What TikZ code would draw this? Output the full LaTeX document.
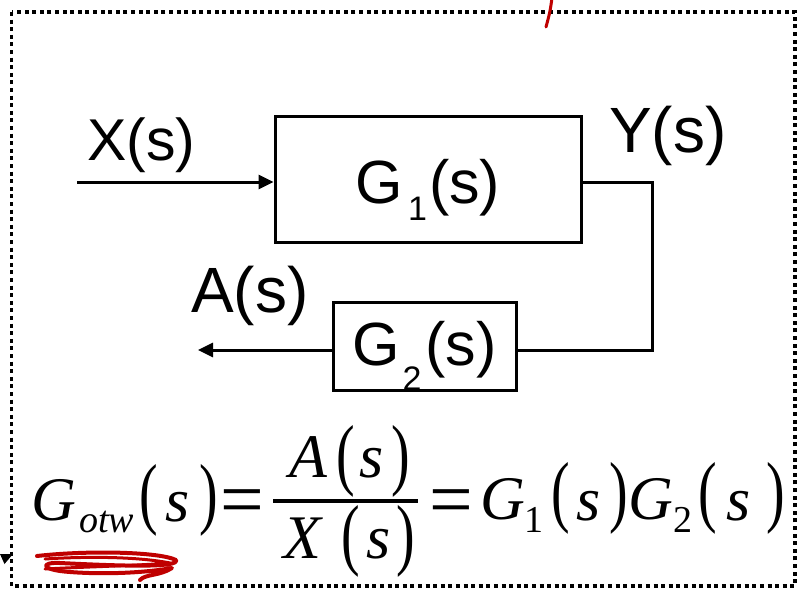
\documentclass[tikz,border=0pt]{standalone}
\usepackage{fontspec}
\usepackage{graphicx}
\setmainfont{Liberation Serif}
\newfontfamily\arialf{Liberation Sans}
\usetikzlibrary{arrows.meta}
\begin{document}
\begin{tikzpicture}[x=1pt,y=-1pt,
  blk/.style={draw, line width=3pt, inner sep=0pt, font=\arialf\fontsize{61}{64}\selectfont},
  conn/.style={line width=3pt},
  tipend/.style={-{Triangle[length=15pt,width=14pt]}},
  lbl/.style={font=\arialf\fontsize{59}{62}\selectfont, inner sep=0pt, anchor=base west},
  lblbig/.style={font=\arialf\fontsize{64}{66}\selectfont, inner sep=0pt, anchor=base west},
  eq/.style={font=\fontsize{62}{66}\selectfont\itshape, inner sep=0pt, anchor=base west},
  eqsub/.style={font=\fontsize{38}{40}\selectfont\itshape, inner sep=0pt, anchor=base west},
  eqsubn/.style={font=\fontsize{38}{40}\selectfont, inner sep=0pt, anchor=base west},
  eqn/.style={font=\fontsize{62}{66}\selectfont, inner sep=0pt, anchor=base west},
  paren/.style={font=\fontsize{62}{66}\selectfont, inner sep=0pt, anchor=west},
  ink/.style={draw=red!75!black, line width=4pt, line cap=round, line join=round},
  frame/.style={line width=3.5pt, dash pattern=on 4pt off 3.6pt}
]
\useasboundingbox (0,0) rectangle (798,589);
% dotted frame
\draw[frame] (11.5,12) rectangle (795,586);
\fill (0,554) -- (13,554) -- (4.5,564) -- cycle;

% blocks
\node[blk, minimum width=306pt, minimum height=126pt, text height=48pt, text depth=0pt] (g1) at (428,179)
  {G\kern5pt\raisebox{-17pt}{\fontsize{34}{34}\selectfont 1}\kern2pt(s)};
\node[blk, minimum width=183pt, minimum height=88pt, text height=38pt, text depth=0pt] (g2) at (424.5,346)
  {G\kern3pt\raisebox{-25pt}{\fontsize{34}{34}\selectfont 2}\kern4pt(s)};

% labels
\node[lbl] (lx) at (87,160) {X(s)};
\node[lblbig] (ly) at (609,152) {Y(s)};
\node[lblbig] (la) at (191,312) {A(s)};

% connectors
\coordinate (xin) at (77,182);
\coordinate (c1) at (652,182);
\coordinate (c2) at (652,350);
\coordinate (aout) at (198,350);
\draw[conn, tipend] (xin) -- (g1.west |- xin);
\draw[conn] (g1.east |- c1) -- (c1) -- (c2) -- (g2.east |- c2);
\draw[conn, tipend] (g2.west |- aout) -- (aout);

% equation
\node[eq] (e1) at (31,520) {G};
\node[eqsub] (e2) at (79,532) {otw};
\node[paren] (e3) at (139,500) {\scalebox{0.9}[1.28]{(}};
\node[eq] (e4) at (165,521) {s};
\node[paren] (e5) at (199,500) {\scalebox{0.9}[1.28]{)}};
\node[eqn] (e6) at (220,526.5) {\scalebox{1.25}[1.3]{=}};
\draw[line width=4pt] (273,500.5) -- (418,500.5);
\node[eq] (n1) at (289,477) {A};
\node[paren] (n2) at (336,461) {\scalebox{0.9}[1.28]{(}};
\node[eq] (n3) at (359,477) {s};
\node[paren] (n4) at (391,461) {\scalebox{0.9}[1.28]{)}};
\node[eq] (d1) at (283,558) {X};
\node[paren] (d2) at (341,541) {\scalebox{0.9}[1.28]{(}};
\node[eq] (d3) at (366,558) {s};
\node[paren] (d4) at (396,541) {\scalebox{0.9}[1.28]{)}};
\node[eqn] (e7) at (429,526.5) {\scalebox{1.25}[1.3]{=}};
\node[eq] (e8) at (480,519) {G};
\node[eqsubn] (e9) at (524,532) {1};
\node[paren] (e10) at (551,498) {\scalebox{0.9}[1.28]{(}};
\node[eq] (e11) at (576,520) {s};
\node[paren] (e12) at (609,498) {\scalebox{0.9}[1.28]{)}};
\node[eq] (e13) at (628,519) {G};
\node[eqsubn] (e14) at (673,532) {2};
\node[paren] (e15) at (698,498) {\scalebox{0.9}[1.28]{(}};
\node[eq] (e16) at (726,520) {s};
\node[paren] (e17) at (766,498) {\scalebox{0.9}[1.28]{)}};

% red annotations
\draw[ink, line width=3pt] (552,-2) .. controls (550,12) .. (546,27);
\draw[ink] (37,556) .. controls (90,550) and (160,552) .. (176,560)
  .. controls (180,568) and (120,566) .. (60,563)
  .. controls (40,562) and (40,570) .. (70,572)
  .. controls (110,575) and (150,572) .. (172,568)
  .. controls (160,576) and (145,574) .. (140,580);
\draw[ink, line width=3pt] (45,559) .. controls (90,556) and (140,557) .. (170,563)
  .. controls (130,566) and (80,567) .. (45,569);
\end{tikzpicture}
\end{document}
